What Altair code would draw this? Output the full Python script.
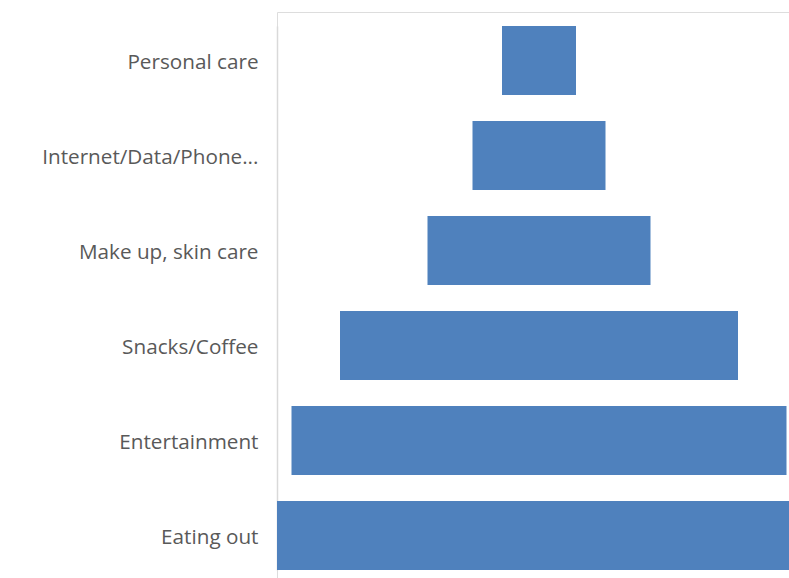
import altair as alt
import pandas as pd

categories = ["Personal care", "Internet/Data/Phone...", "Make up, skin care",
              "Snacks/Coffee", "Entertainment", "Eating out"]
values = [74, 133, 223, 398, 495, 524]

df = pd.DataFrame({"category": categories, "value": values})
df["lo"] = -df["value"] / 2
df["hi"] = df["value"] / 2

chart = alt.Chart(df).mark_bar(color="#4F81BD", clip=True).encode(
    y=alt.Y("category:N", sort=categories,
            scale=alt.Scale(paddingInner=0.274, paddingOuter=0, range=[14, 558]),
            axis=alt.Axis(title=None, ticks=False, labelPadding=19, labelOffset=2.5,
                          labelFontSize=20.7, labelColor="#595959",
                          labelFont="Open Sans", labelLimit=400,
                          domainColor="#D9D9D9", domainWidth=1.5, grid=False)),
    x=alt.X("lo:Q", scale=alt.Scale(domain=[-262, 250], nice=False, zero=False), axis=None),
    x2="hi:Q",
).properties(
    width=512, height=566,
    autosize=alt.AutoSizeParams(type="none"),
    padding={"left": 277, "top": 12, "right": 0, "bottom": 0},
).configure_view(strokeWidth=0, stroke="transparent").configure(background="white")

chart.save("out.html", embed_options={"renderer": "svg", "actions": False})
